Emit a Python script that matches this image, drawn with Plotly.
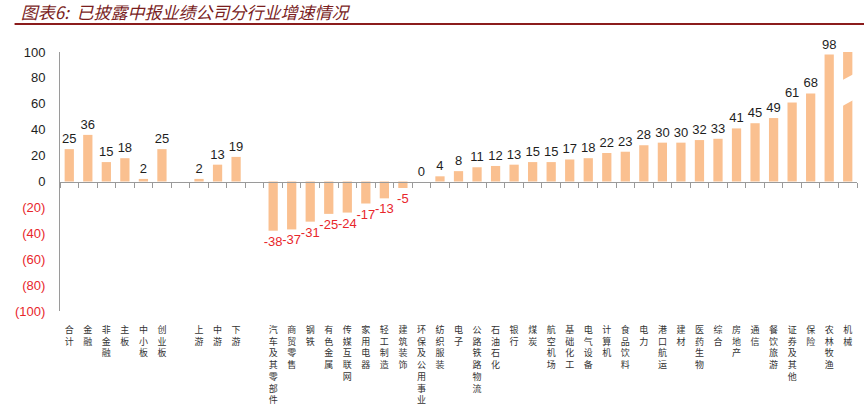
import plotly.graph_objects as go

# ---- data ----
categories = [
    "合计", "金融", "非金融", "主板", "中小板", "创业板", " ",
    "上游", "中游", "下游", "  ",
    "汽车及其零部件", "商贸零售", "钢铁", "有色金属", "传媒互联网", "家用电器",
    "轻工制造", "建筑装饰", "环保及公用事业", "纺织服装", "电子", "公路铁路物流",
    "石油石化", "银行", "煤炭", "航空机场", "基础化工", "电气设备", "计算机",
    "食品饮料", "电力", "港口航运", "建材", "医药生物", "综合", "房地产", "通信",
    "餐饮旅游", "证券及其他", "保险", "农林牧渔", "机械",
]
values = [
    25, 36, 15, 18, 2, 25, None,
    2, 13, 19, None,
    -38, -37, -31, -25, -24, -17, -13, -5, 0, 4, 8, 11, 12, 13, 15, 15, 17,
    18, 22, 23, 28, 30, 30, 32, 33, 41, 45, 49, 61, 68, 98, 150,
]
# the last bar is broken (off the scale), so it carries no label
bar_labels = [("" if (v is None or c == "机械") else str(v)) for c, v in zip(categories, values)]
y_tickvals = [100, 80, 60, 40, 20, 0, -20, -40, -60, -80, -100]
y_ticktext = ["100", "80", "60", "40", "20", "0", "(20)", "(40)", "(60)", "(80)", "(100)"]

title_text = "图表6:  已披露中报业绩公司分行业增速情况"

# ---- styles ----
BAR = "#FAC090"
RED = "#E8262B"
DARK = "#1E1E1E"
AXIS = "#9A9A9A"
TITLE = "#7A1E1E"

vert_labels = ["<br>".join(list(c.strip())) if c.strip() else "" for c in categories]
text_colors = [RED if (v is not None and v < 0) else DARK for v in values]
ytick_html = [
    (f"<span style='color:{RED}'>{t}</span>" if v < 0 else t)
    for v, t in zip(y_tickvals, y_ticktext)
]

fig = go.Figure()
fig.add_trace(go.Bar(
    x=categories, y=values, marker_color=BAR, marker_line_width=0,
    text=bar_labels, textposition="outside", cliponaxis=False,
    constraintext="none",
    textfont=dict(family="Liberation Sans, Arial", size=13, color=text_colors),
    hoverinfo="skip",
))
# invisible trace to carry the zero-line axis with boundary ticks
fig.add_trace(go.Scatter(
    x=categories, y=[0] * len(categories), xaxis="x2", mode="markers",
    marker=dict(opacity=0), hoverinfo="skip", showlegend=False,
))

n = len(categories)
fig.update_layout(
    width=864, height=414,
    margin=dict(l=60, r=7, t=52, b=103),
    paper_bgcolor="white", plot_bgcolor="white",
    showlegend=False, bargap=0.5, hovermode=False,
    title=dict(
        text=title_text, x=0.024, xanchor="left", xref="container",
        y=0.968, yanchor="middle", yref="container",
        font=dict(family="Noto Sans CJK SC", size=17, color=TITLE, style="italic"),
    ),
    xaxis=dict(
        type="category", categoryorder="array", categoryarray=categories,
        range=[-0.5, n - 0.5], tickmode="array", tickvals=categories,
        ticktext=vert_labels, showline=False, ticks="", showgrid=False,
        zeroline=False, tickangle=0, ticklabelstandoff=12,
        tickfont=dict(family="Noto Sans CJK SC", size=9, color="#333333"),
    ),
    xaxis2=dict(
        type="category", categoryorder="array", categoryarray=categories,
        range=[-0.5, n - 0.5], overlaying="x", anchor="free", position=0.5,
        side="bottom", showline=True, linecolor=AXIS, linewidth=1,
        ticks="outside", tickson="boundaries", ticklen=5, tickcolor=AXIS,
        showticklabels=False, showgrid=False, zeroline=False,
    ),
    yaxis=dict(
        range=[-100, 100], tickmode="array", tickvals=y_tickvals,
        ticktext=ytick_html, showline=True, linecolor=AXIS, linewidth=1,
        showgrid=False, zeroline=False, ticks="", ticklabelstandoff=11,
        tickfont=dict(family="Liberation Sans, Arial", size=13, color=DARK),
    ),
)

# rule under the title
fig.add_shape(type="line", xref="paper", yref="paper",
              x0=-0.057, x1=1.02, y0=1.108, y1=1.108,
              line=dict(color="#8B1C1C", width=2))

# break mark on the off-scale bar
k = categories.index("机械")
fig.add_shape(type="path", xref="x", yref="y",
              path=f"M {k-0.45},57 L {k+0.45},64 L {k+0.45},84 L {k-0.45},77 Z",
              fillcolor="white", line=dict(width=0))

fig.write_html("out.html", config={"displayModeBar": False},
               post_script="document.body.style.margin='0';")
